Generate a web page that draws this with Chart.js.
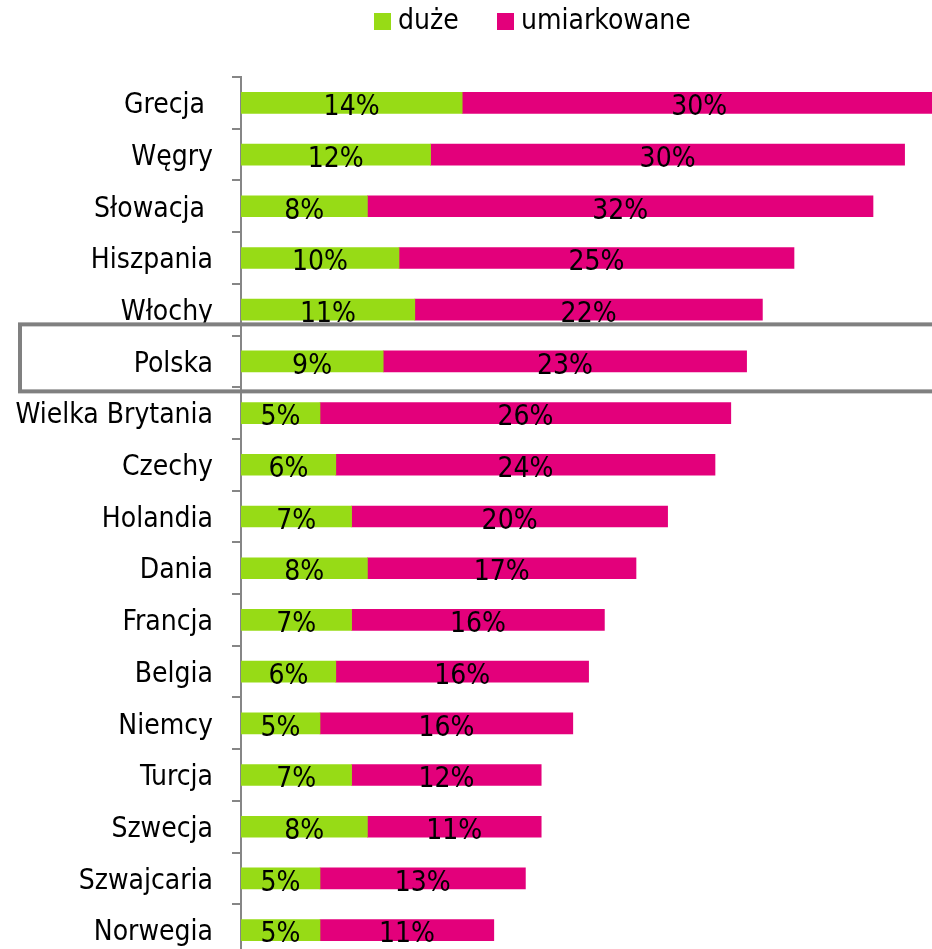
<!DOCTYPE html>
<html>
<head>
<meta charset="utf-8">
<script src="https://cdn.jsdelivr.net/npm/chart.js@4/dist/chart.umd.min.js"></script>
<style>
  html, body { margin: 0; padding: 0; overflow: hidden; background: #fff; }
  canvas { display: block; }
</style>
</head>
<body>
<canvas id="wykres" width="960" height="960"></canvas>
<script>
// dane
const kraje = ['Grecja ', 'Węgry', 'Słowacja ', 'Hiszpania', 'Włochy', 'Polska', 'Wielka Brytania',
  'Czechy', 'Holandia', 'Dania', 'Francja', 'Belgia', 'Niemcy', 'Turcja', 'Szwecja', 'Szwajcaria', 'Norwegia'];
const duze = [14, 12, 8, 10, 11, 9, 5, 6, 7, 8, 7, 6, 5, 7, 8, 5, 5];
const umiarkowane = [30, 30, 32, 25, 22, 23, 26, 24, 20, 17, 16, 16, 16, 12, 11, 13, 11];
const serie = ['duże', 'umiarkowane'];
const wyrozniony = 'Polska';

const ZIELONY = '#97db16';
const ROZOWY = '#e3007b';
const FONT = "'DejaVu Sans Condensed', 'DejaVu Sans', sans-serif";

// etykiety w slupkach + legenda + ramka wokol Polski
const dodatki = {
  id: 'dodatki',
  afterDatasetsDraw(chart) {
    const ctx = chart.ctx;
    ctx.save();
    ctx.font = '28px ' + FONT;
    ctx.fillStyle = '#000';
    ctx.textAlign = 'center';
    ctx.textBaseline = 'middle';
    chart.data.datasets.forEach((ds, i) => {
      chart.getDatasetMeta(i).data.forEach((bar, j) => {
        const x = (bar.x + bar.base) / 2;
        ctx.fillText(ds.data[j] + '%', x, bar.y + 5);
      });
    });
    ctx.restore();
  },
  afterDraw(chart) {
    const ctx = chart.ctx;
    const y = chart.scales.y;
    // ramka
    const idx = kraje.indexOf(wyrozniony);
    const yc = y.getPixelForValue(idx);
    ctx.save();
    ctx.strokeStyle = '#808080';
    ctx.lineWidth = 4;
    ctx.strokeRect(20, yc - 37, chart.width, 67);
    ctx.restore();

    // legenda
    const kolory = [ZIELONY, ROZOWY];
    const pozycje = [374, 497];
    ctx.save();
    ctx.font = '28px ' + FONT;
    ctx.textBaseline = 'middle';
    ctx.textAlign = 'left';
    serie.forEach((s, i) => {
      ctx.fillStyle = kolory[i];
      ctx.fillRect(pozycje[i], 13, 17, 17);
      ctx.fillStyle = '#000';
      ctx.fillText(s, pozycje[i] + 24, 22);
    });
    ctx.restore();
  }
};

const ctx = document.getElementById('wykres').getContext('2d');
const wykres = new Chart(ctx, {
  type: 'bar',
  data: {
    labels: kraje,
    datasets: [
      { label: serie[0], data: duze, backgroundColor: ZIELONY, barThickness: 21 },
      { label: serie[1], data: umiarkowane, backgroundColor: ROZOWY, barThickness: 21 }
    ]
  },
  options: {
    indexAxis: 'y',
    responsive: false,
    animation: false,
    layout: { autoPadding: false, padding: { top: 77, right: 8, bottom: 4, left: 0 } },
    plugins: { legend: { display: false }, tooltip: { enabled: false } },
    scales: {
      x: { stacked: true, min: 0, max: 45, display: false },
      y: {
        stacked: true,
        grid: { drawOnChartArea: false, drawTicks: true, tickLength: 9, color: '#868686', lineWidth: 2, offset: true },
        border: { display: true, color: '#868686', width: 2 },
        ticks: { color: '#000', font: { family: FONT, size: 28 }, padding: 19, labelOffset: 3, autoSkip: false },
        afterFit(scale) {
          scale.width = 241;
          scale.paddingTop = 0;
          scale.paddingBottom = 0;
        }
      }
    }
  },
  plugins: [dodatki]
});
</script>
</body>
</html>
